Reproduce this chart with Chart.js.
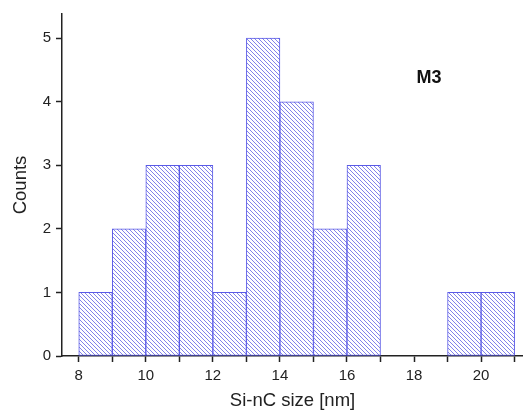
<!DOCTYPE html>
<html>
<head>
<meta charset="utf-8">
<script src="https://cdn.jsdelivr.net/npm/chart.js@4"></script>
<style>
  html, body { margin: 0; padding: 0; background: #fff; }
  #wrap { width: 523px; height: 416px; }
</style>
</head>
<body>
<div id="wrap"><canvas id="c" width="523" height="416"></canvas></div>
<script>
// Histogram of Si-nC sizes, sample M3 (bins of 1 nm)
const binStarts = [8, 9, 10, 11, 12, 13, 14, 15, 16, 17, 18, 19, 20];
const counts    = [1, 2, 3, 3, 1, 5, 4, 2, 3, 0, 0, 1, 1];
const xTickLabels = ['8', '10', '12', '14', '16', '18', '20'];
const yTickLabels = ['0', '1', '2', '3', '4', '5'];
const sampleLabel = 'M3';

const FONT = '"Liberation Sans", Arial, sans-serif';

// diagonal "\\" hatch fill
function makeHatch() {
  const s = 4;
  const c = document.createElement('canvas');
  c.width = s; c.height = s;
  const g = c.getContext('2d');
  g.fillStyle = '#ffffff';
  g.fillRect(0, 0, s, s);
  g.strokeStyle = '#8282ea';
  g.lineWidth = 1;
  g.beginPath();
  g.moveTo(-1, -1); g.lineTo(s + 1, s + 1);
  g.moveTo(-1, s - 1); g.lineTo(1, s + 1);
  g.moveTo(s - 1, -1); g.lineTo(s + 1, 1);
  g.stroke();
  return g.createPattern(c, 'repeat');
}

const barData = binStarts.map((b, i) => ({ x: b + 0.5, y: counts[i] > 0 ? counts[i] : null }));

// text label inside the plot
const sampleTag = {
  id: 'sampleTag',
  afterDatasetsDraw(chart) {
    const { ctx, scales } = chart;
    ctx.save();
    ctx.font = 'bold 18px ' + FONT;
    ctx.fillStyle = '#111';
    ctx.textAlign = 'center';
    ctx.textBaseline = 'middle';
    ctx.fillText(sampleLabel, scales.x.getPixelForValue(18.45), scales.y.getPixelForValue(4.37));
    ctx.restore();
  }
};

new Chart(document.getElementById('c'), {
  type: 'bar',
  data: {
    datasets: [{
      data: barData,
      backgroundColor: makeHatch(),
      borderColor: '#5a5ae6',
      borderWidth: 1,
      borderSkipped: false,
      barPercentage: 1,
      categoryPercentage: 1
    }]
  },
  options: {
    responsive: false,
    animation: false,
    layout: { padding: { top: 10, right: 0, left: 0, bottom: 0 } },
    plugins: { legend: { display: false }, tooltip: { enabled: false } },
    scales: {
      x: {
        type: 'linear',
        offset: false,
        min: 7.5,
        max: 21.25,
        afterBuildTicks(scale) {
          scale.ticks = binStarts.concat([21]).map(v => ({ value: v }));
        },
        afterFit(scale) { scale.height = 60; },
        ticks: {
          autoSkip: false,
          maxRotation: 0,
          padding: 5,
          color: '#222',
          font: { family: FONT, size: 15 },
          callback: (v) => xTickLabels.includes(String(v)) ? String(v) : ''
        },
        grid: { offset: false, drawOnChartArea: false, drawTicks: true, tickLength: 6, tickColor: '#222', tickWidth: 1.5 },
        border: { display: true, color: '#222', width: 1.5 },
        title: {
          display: true,
          text: 'Si-nC size [nm]',
          color: '#222',
          font: { family: FONT, size: 18.5 },
          padding: { top: 5 }
        }
      },
      y: {
        min: 0,
        max: 5.38,
        afterBuildTicks(scale) {
          scale.ticks = yTickLabels.map(v => ({ value: Number(v) }));
        },
        afterFit(scale) { scale.width = 62; },
        ticks: {
          autoSkip: false,
          padding: 5,
          color: '#222',
          font: { family: FONT, size: 15 },
          callback: (v) => String(v)
        },
        grid: { drawOnChartArea: false, drawTicks: true, tickLength: 6, tickColor: '#222', tickWidth: 1.5 },
        border: { display: true, color: '#222', width: 1.5 },
        title: {
          display: true,
          text: 'Counts',
          color: '#222',
          font: { family: FONT, size: 18.5 },
          padding: { top: 10, bottom: 0 }
        }
      }
    }
  },
  plugins: [sampleTag]
});
</script>
</body>
</html>
